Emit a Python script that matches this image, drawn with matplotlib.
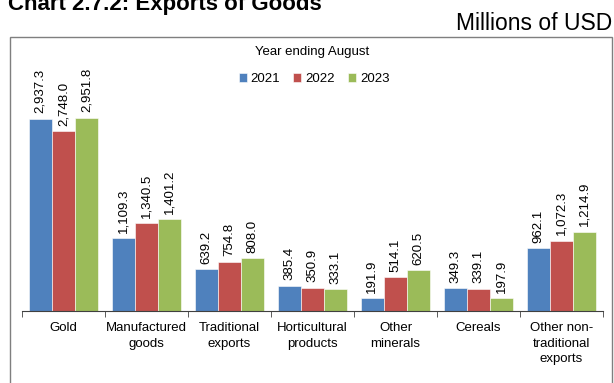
import matplotlib
matplotlib.use('Agg')
import matplotlib.pyplot as plt
import numpy as np
from matplotlib.patches import Rectangle

plt.rcParams['font.family'] = ['Liberation Sans', 'DejaVu Sans']

categories = ['Gold', 'Manufactured\ngoods', 'Traditional\nexports',
              'Horticultural\nproducts', 'Other\nminerals', 'Cereals',
              'Other non-\ntraditional\nexports']
years = ['2021', '2022', '2023']
v2021 = [2937.3, 1109.3, 639.2, 385.4, 191.9, 349.3, 962.1]
v2022 = [2748.0, 1340.5, 754.8, 350.9, 514.1, 339.1, 1072.3]
v2023 = [2951.8, 1401.2, 808.0, 333.1, 620.5, 197.9, 1214.9]
colors = ['#4F81BD', '#C0504D', '#9BBB59']

W, H = 614, 383
fig = plt.figure(figsize=(W / 100, H / 100), dpi=100)

# chart area border
fig.patches.append(Rectangle((10 / W, -0.05), 602 / W, (H - 37) / H + 0.05,
                             transform=fig.transFigure, fill=False,
                             edgecolor='#7f7f7f', linewidth=1.0))

ax = fig.add_axes([22 / W, (H - 311) / H, 581 / W, (311 - 37) / H])
x = np.arange(len(categories))
bw = 0.28
for i, (vals, yr) in enumerate(zip([v2021, v2022, v2023], years)):
    bars = ax.bar(x + (i - 1) * bw, vals, bw, color=colors[i], label=yr,
                  edgecolor='white', linewidth=0.4)
    for b, v in zip(bars, vals):
        ax.annotate(f'{v:,.1f}', (b.get_x() + b.get_width() / 2, v),
                    xytext=(0, 4), textcoords='offset points', rotation=90,
                    ha='center', va='bottom', fontsize=9.5)

ax.set_xlim(-0.5, len(categories) - 0.5)
ax.set_ylim(0, 4190)
for s in ['top', 'right', 'left']:
    ax.spines[s].set_visible(False)
ax.spines['bottom'].set_color('#404040')
ax.set_yticks([])
ax.set_xticks(x)
ax.set_xticklabels(categories, fontsize=9.5, linespacing=1.4)
ax.tick_params(axis='x', which='major', length=0, pad=8)
ax.set_xticks(np.arange(-0.5, len(categories)), minor=True)
ax.tick_params(axis='x', which='minor', length=4, color='#404040')
ax.patch.set_visible(False)

ax.legend(loc='center', bbox_to_anchor=(314 / W, (H - 79) / H),
          bbox_transform=fig.transFigure, ncol=3, frameon=False,
          fontsize=9.5, handlelength=0.6, handleheight=0.6,
          handletextpad=0.3, columnspacing=1.0)
fig.text(312 / W, (H - 52) / H, 'Year ending August', ha='center',
         va='center', fontsize=9.5)

fig.text(8 / W, (H - 10) / H, 'Chart 2.7.2: Exports of Goods', ha='left',
         va='baseline', fontsize=16, fontweight='bold')
fig.text(612 / W, (H - 24) / H, 'Millions of USD', ha='right', va='center',
         fontsize=16.5)

fig.savefig('out.png', dpi=100)
